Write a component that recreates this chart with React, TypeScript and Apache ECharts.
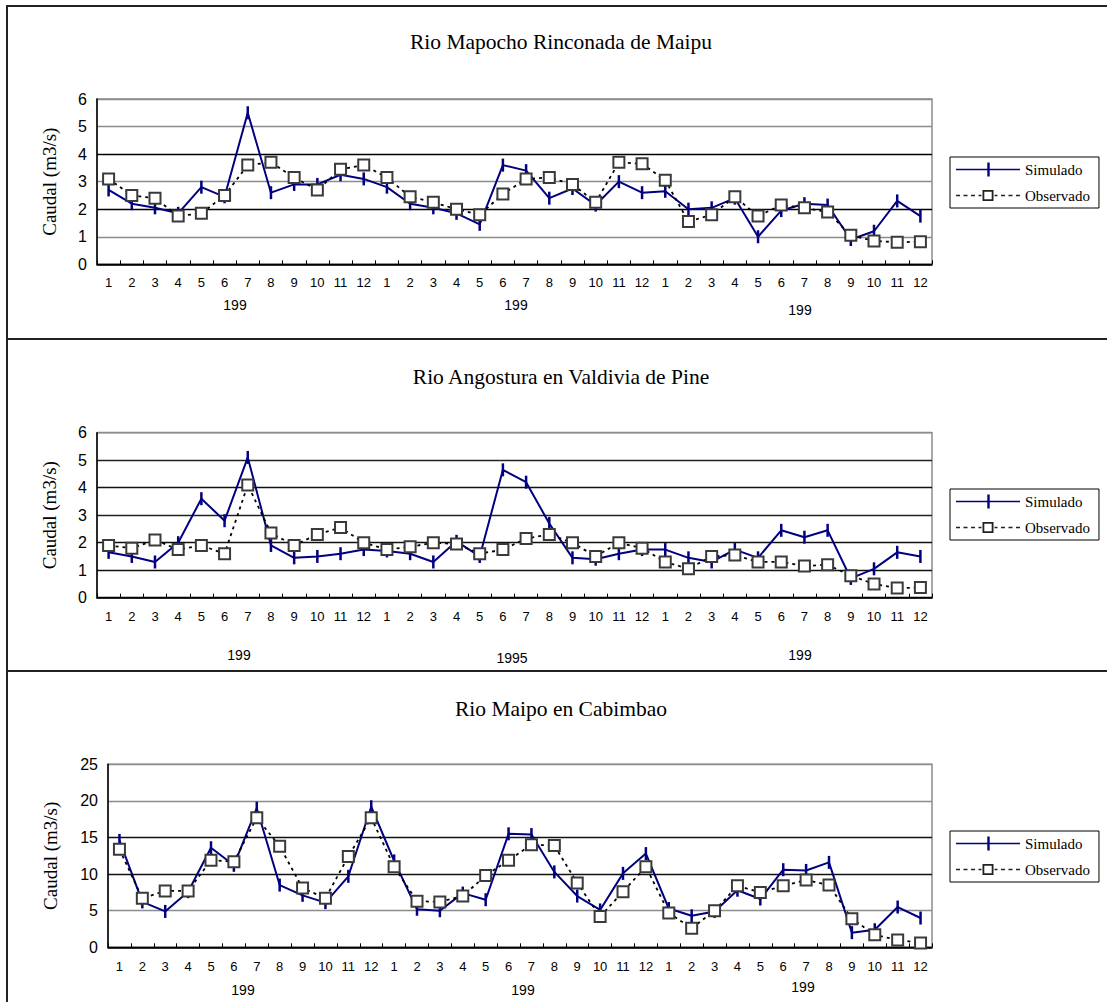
import React, { useEffect, useRef } from 'react';
import * as echarts from 'echarts';

// ---------- data ----------
const months = ['1', '2', '3', '4', '5', '6', '7', '8', '9', '10', '11', '12'];
const categories = [...months, ...months, ...months];

const panelTitles = [
  'Rio Mapocho Rinconada de Maipu',
  'Rio Angostura en Valdivia de Pine',
  'Rio Maipo en Cabimbao',
];
const yearLabels = [
  ['199', '199', '199'],
  ['199', '1995', '199'],
  ['199', '199', '199'],
];
const seriesNames = ['Simulado', 'Observado'];
const yAxisName = 'Caudal (m3/s)';
const yMax = [6, 6, 25];
const yStep = [1, 1, 5];

const mapochoSim = [2.7, 2.2, 2.05, 1.85, 2.8, 2.45, 5.5, 2.6, 2.9, 2.9, 3.25, 3.1, 2.8, 2.2, 2.05, 1.85, 1.45, 3.6, 3.4, 2.4, 2.75, 2.15, 3.0, 2.6, 2.65, 2.0, 2.05, 2.4, 1.0, 1.95, 2.2, 2.15, 0.9, 1.2, 2.3, 1.75];
const mapochoObs = [3.1, 2.5, 2.4, 1.75, 1.85, 2.5, 3.6, 3.7, 3.15, 2.7, 3.45, 3.6, 3.15, 2.45, 2.25, 2.0, 1.8, 2.55, 3.1, 3.15, 2.9, 2.25, 3.7, 3.65, 3.05, 1.55, 1.8, 2.45, 1.75, 2.15, 2.05, 1.9, 1.05, 0.85, 0.8, 0.82];
const angosturaSim = [1.65, 1.5, 1.3, 2.0, 3.6, 2.8, 5.1, 1.9, 1.45, 1.5, 1.6, 1.75, 1.7, 1.6, 1.3, 2.05, 1.5, 4.65, 4.2, 2.7, 1.45, 1.4, 1.6, 1.75, 1.75, 1.45, 1.3, 1.75, 1.45, 2.45, 2.2, 2.45, 0.7, 1.05, 1.65, 1.5];
const angosturaObs = [1.9, 1.8, 2.1, 1.75, 1.9, 1.6, 4.1, 2.35, 1.9, 2.3, 2.55, 2.0, 1.75, 1.85, 2.0, 1.95, 1.6, 1.75, 2.15, 2.3, 2.0, 1.5, 2.0, 1.8, 1.3, 1.05, 1.5, 1.55, 1.3, 1.3, 1.15, 1.2, 0.8, 0.5, 0.35, 0.37];
const maipoSim = [14.6, 6.2, 4.9, 7.6, 13.6, 11.2, 19.0, 8.5, 7.1, 6.1, 9.7, 19.2, 11.8, 5.2, 5.0, 7.4, 6.5, 15.5, 15.4, 10.3, 7.0, 5.1, 10.1, 12.8, 5.3, 4.3, 4.9, 7.8, 6.6, 10.6, 10.5, 11.6, 2.0, 2.4, 5.5, 4.0];
const maipoObs = [13.4, 6.7, 7.7, 7.7, 11.9, 11.7, 17.7, 13.8, 8.1, 6.7, 12.4, 17.7, 11.0, 6.3, 6.2, 7.0, 9.8, 11.9, 14.0, 13.9, 8.8, 4.2, 7.6, 11.0, 4.7, 2.6, 5.0, 8.4, 7.5, 8.4, 9.2, 8.5, 3.9, 1.7, 1.0, 0.6];

const simulated = [mapochoSim, angosturaSim, maipoSim];
const observed = [mapochoObs, angosturaObs, maipoObs];

// ---------- styling / layout ----------
const SERIF = '"Liberation Serif", "Times New Roman", serif';
const SANS = '"Liberation Sans", Arial, sans-serif';
const NAVY = '#000080';
const GREY = '#8c8c8c';

const grids = [
  { left: 97, top: 99, width: 835, height: 165.3 },
  { left: 97, top: 432.7, width: 835, height: 165 },
  { left: 108, top: 764.3, width: 824, height: 183 },
];
const nameGaps = [38, 38, 48];
const xLabelMargins = [12, 12, 13];
const splitColors = [
  ['#000', GREY, '#000', GREY, '#000', GREY, GREY],
  ['#000', '#111', '#111', '#222', '#111', '#222', GREY],
  ['#000', GREY, '#111', '#111', GREY, GREY],
];
const titlePos = [
  [561, 42],
  [561, 377],
  [561, 709],
];
const yearPos = [
  [[235, 305], [516, 305], [800, 310]],
  [[239, 655], [512, 658], [800, 655]],
  [[243, 990], [523, 990], [803, 987]],
];
const legendTops = [157, 489, 831];

const simIcon = 'path://M0,6.2H64V7.8H0Z M31.3,0H33.7V14H31.3Z';
const obsIcon =
  'path://M0,0H0.01V0.01H0Z M63.99,13.99H64V14H63.99Z ' +
  'M0,6.2H4V7.8H0Z M7.5,6.2H11.5V7.8H7.5Z M15,6.2H19V7.8H15Z M22.5,6.2H25.5V7.8H22.5Z ' +
  'M26.5,1.5H37.5V12.5H26.5Z M28.3,3.3V10.7H35.7V3.3Z ' +
  'M38.5,6.2H41.5V7.8H38.5Z M45,6.2H49V7.8H45Z M52.5,6.2H56.5V7.8H52.5Z M60,6.2H64V7.8H60Z';

function buildOption() {
  const grid: any[] = [];
  const xAxis: any[] = [];
  const yAxis: any[] = [];
  const series: any[] = [];
  const legend: any[] = [];
  const graphic: any[] = [];

  for (let i = 0; i < 3; i++) {
    grid.push({ ...grids[i], show: true, borderColor: GREY, borderWidth: 1.5, containLabel: false });
    xAxis.push({
      type: 'category',
      gridIndex: i,
      data: categories,
      boundaryGap: true,
      axisLine: { show: true, lineStyle: { color: '#000', width: 1.5 } },
      axisTick: { show: true, inside: true, length: 4, interval: 0, lineStyle: { color: '#000', width: 1 } },
      axisLabel: { interval: 0, fontFamily: SANS, fontSize: 13, color: '#000', margin: xLabelMargins[i] },
      splitLine: { show: false },
    });
    yAxis.push({
      type: 'value',
      gridIndex: i,
      min: 0,
      max: yMax[i],
      interval: yStep[i],
      name: yAxisName,
      nameLocation: 'middle',
      nameGap: nameGaps[i],
      nameTextStyle: { fontFamily: SERIF, fontSize: 19, color: '#000' },
      axisLine: { show: true, lineStyle: { color: '#000', width: 1.5 } },
      axisTick: { show: false },
      axisLabel: { fontFamily: SANS, fontSize: 16, color: '#000', margin: 10 },
      splitLine: { show: true, lineStyle: { color: splitColors[i], width: 1.3 } },
    });
    series.push({
      name: seriesNames[0],
      type: 'line',
      xAxisIndex: i,
      yAxisIndex: i,
      data: simulated[i],
      symbol: 'path://M0,0H2V10H0Z',
      symbolSize: [2.5, 13],
      showSymbol: true,
      showAllSymbol: true,
      itemStyle: { color: NAVY },
      lineStyle: { color: NAVY, width: 2 },
      silent: true,
      z: 2,
    });
    series.push({
      name: seriesNames[1],
      type: 'line',
      xAxisIndex: i,
      yAxisIndex: i,
      data: observed[i],
      symbol: 'rect',
      symbolSize: 11,
      showSymbol: true,
      showAllSymbol: true,
      itemStyle: { color: '#fff', borderColor: '#3a3a3a', borderWidth: 2 },
      lineStyle: { color: '#000', width: 1.8, type: [3, 4] },
      silent: true,
      z: 3,
    });
    legend.push({
      left: 950,
      top: legendTops[i],
      orient: 'vertical',
      itemWidth: 64,
      itemHeight: 14,
      itemGap: 11,
      padding: [5, 9, 5, 6],
      borderColor: '#000',
      borderWidth: 1,
      backgroundColor: '#fff',
      selectedMode: false,
      textStyle: { fontFamily: SERIF, fontSize: 15, color: '#000' },
      data: [
        { name: seriesNames[0], icon: simIcon, itemStyle: { color: NAVY, borderWidth: 0 } },
        { name: seriesNames[1], icon: obsIcon, itemStyle: { color: '#222', borderWidth: 0 } },
      ],
    });
    graphic.push({
      type: 'text',
      x: titlePos[i][0],
      y: titlePos[i][1],
      silent: true,
      style: {
        text: panelTitles[i],
        fontFamily: SERIF,
        fontSize: 21.5,
        fill: '#000',
        align: 'center',
        verticalAlign: 'middle',
        textAlign: 'center',
        textVerticalAlign: 'middle',
      },
    });
    for (let k = 0; k < 3; k++) {
      graphic.push({
        type: 'text',
        x: yearPos[i][k][0],
        y: yearPos[i][k][1],
        silent: true,
        style: {
          text: yearLabels[i][k],
          fontFamily: SANS,
          fontSize: 14,
          fill: '#000',
          align: 'center',
          verticalAlign: 'middle',
          textAlign: 'center',
          textVerticalAlign: 'middle',
        },
      });
    }
  }

  const frameLines = [
    [6, 6, 1107, 6],
    [7, 5, 7, 1002],
    [6, 339, 1107, 339],
    [6, 671, 1107, 671],
  ];
  frameLines.forEach((l) => {
    graphic.push({
      type: 'line',
      silent: true,
      shape: { x1: l[0], y1: l[1], x2: l[2], y2: l[3] },
      style: { stroke: '#222', lineWidth: 2 },
    });
  });

  return {
    animation: false,
    backgroundColor: '#fff',
    grid,
    xAxis,
    yAxis,
    series,
    legend,
    graphic,
  };
}

export default function App() {
  const ref = useRef<HTMLDivElement>(null);
  useEffect(() => {
    if (!ref.current) return;
    const chart = echarts.init(ref.current, undefined, { renderer: 'svg' });
    chart.setOption(buildOption() as any);
    return () => chart.dispose();
  }, []);
  return (
    <div
      ref={ref}
      style={{ position: 'absolute', left: 0, top: 0, width: 1107, height: 1002, background: '#fff' }}
    />
  );
}
